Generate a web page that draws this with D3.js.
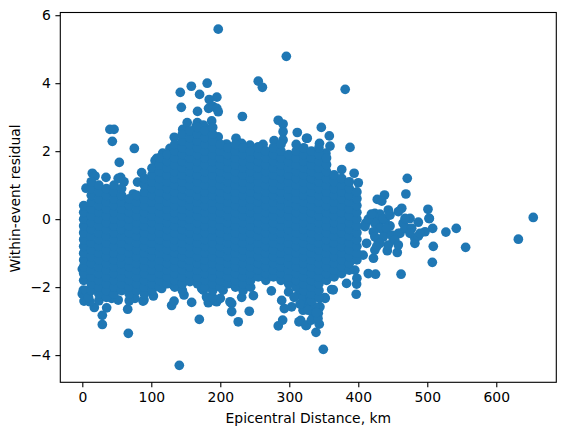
<!DOCTYPE html>
<html><head><meta charset="utf-8">
<script src="https://cdn.jsdelivr.net/npm/d3@7"></script>
<style>html,body{margin:0;background:#fff}svg{display:block}text{font-family:"DejaVu Sans",sans-serif;font-size:13.9px;fill:#000}</style>
</head><body><svg id="c" width="565" height="435"></svg>
<script>
const xTicks=[0,100,200,300,400,500,600];
const yTicks=[-4,-2,0,2,4,6];
const xLabel="Epicentral Distance, km";
const yLabel="Within-event residual";
const pointColor="#1f77b4";

// isolated and silhouette points: [distance km, residual]
const outerPoints=[
[197,5.59],[295.7,4.79],[255,4.06],[261,3.88],[181,4],[158,3.91],[142,3.73],[170,3.67],[195,3.59],[184,3.52],[143.5,3.29],[167,3.17],[183,3.26],[189.6,3.31],[195,3.26],[197,3.16],[232,3.02],[284,2.91],[291,2.8],[291,2.57],[291,2.33],[311.6,2.55],[325,2.38],[40,2.64],[46,2.64],[43.5,2.29],[75.4,2.08],[53.6,1.67],[14.5,1.35],[18.4,1.27],[34.3,1.23],[55.6,1.23],[52,1.2],[60.4,1.1],[86,1.37],[80,1.09],[5.4,.91],[74,.74],[116.5,1.94],[107.8,1.79],[105.4,1.72],[133.3,2.41],[145.5,2.64],[152,2.84],[166.7,2.84],[175.4,2.77],[187.5,2.89],[186.5,2.67],[164.8,2.72],[197,2.42],[222.8,2.38],[243,2.18],[231,2.23],[262,2.2],[255,2.13],[278,2.31],[291.6,1.86],[278,1.86],[209,2.21],[127,2.08],
[381,3.82],[346.4,2.7],[358,2.45],[326,2.38],[388,2.11],[359,2.15],[343.8,2.23],[353,1.94],[351.7,1.54],[376,1.46],[394,1.35],[400,1.07],[471,1.2],[469,.74],[438,.71],[427.5,.58],[434,.53],[501,.29],[653.6,.05],[463,.32],[443.5,.27],[424,.17],
[632,-.59],[555.6,-.83],[508.7,-.8],[507.3,-1.27],[542,-.27],[527,-.38],[507.8,-.27],[503,.02],[462,-1.62],[425,-1.62],[414.5,-1.6],[422,-1.15],[456.5,-.98],[442,-.93],[482,-.71],[482,-.57],[496.7,-.37],[487,-.09],[475,.02],[487,-.5],[472.5,-.27],[458,.22],[431.4,.15],[422,.09],[410.8,-.12],[446,-.2],[460.4,-.42],[450.7,-.61],[429,-.67],[424,-.91],[407,-1.06],[412,-.71],[431,-.22],[438.7,-.42],[426.7,-.08],[438.7,-.03],[465,-.12],[397,-2.21],[397.6,-1.91],[398,-1.74],[383,-1.89],[395,-1.5],[361.4,-2.07],[351.7,-2.31],[344.4,-2.58],[342,-2.77],[343.4,-3.09],[325,-3.12],[338.7,-3.33],[349.3,-3.83],[334.8,-2.87],[320,-2.68],[325,-2.48],[314,-3.02],
[140.6,-4.3],[66.7,-3.36],[29,-3.1],[29,-2.83],[17.4,-2.6],[2.5,-2.41],[65.8,-2.65],[35.3,-2.61],[89.4,-2.38],[103,-2.26],[129.5,-2.54],[133,-2.41],[147.4,-2.23],[158.5,-2.45],[169.6,-2.95],[182.6,-2.46],[194.8,-2.43],[216.5,-2.72],[216.5,-2.48],[226,-3.02],[242,-2.71],[231,-2.3],[248,-2.25],[274,-2.11],[289,-2.39],[292.8,-2.63],[303.4,-2.58],[284,-3.14],[290.4,-2.97],[316.5,-2.98],[324,-3.13],[175.4,-2.09],[0,-1.47],[1.5,-2.09],
[11,-2.43],[42.6,-2.33],[52,-2.38],[76.4,-2.33],[88,-2.41],[115,-2.04],[132,-1.94],[156,-1.84],[173,-2.04],[192,-2.4],[200,-2.33],[180,-2.29],[204,-2.09],[0,-2.2],[5,-2.1],[9,-2.3],[24,-2.4],
[214,-2.43],[299,-2.14],[313,-2.23],[320,-2.33],[315.5,-2.5],[330,-2.43],[337,-2.58],[327.5,-2.68],[332,-2.97],[341.6,-2.92],[344,-2.33],[352,-2.33],[363.7,-2.08],[330,-2.25],[339,-2.75],[307,-2.3],
[424,-.12],[436.3,.02],[446,.12],[431.4,-.27],[441,-.27],[421.8,-.37],[424,-.52],[436.3,-.52],[448.3,-.47],[458,-.42],[467.7,-.27],[477.4,-.27],[467.7,.02],[443.5,-.76],[431.4,-.71],[453,-.61],[426.6,-.81],[409.7,-.22],[475,-.42],[489.4,-.42],[458,-.76],[414.5,0],[502.5,.02],[419,.15]
];

// dense cloud, read as residuals per distance column
const coreDistances=[2,13,24,35,46,57,68,79,90,101,112,123,134,145,156,167,178,189,200,211,222,233,244,255,266,277,288,299,310,321,332,343,354,365,376,387,398];
const coreResiduals=[
[-1.8,-1.6,-1.4,-1.2,-1,-.8,-.6,-.4,-.2,0,.2,.4],
[-2.1,-1.9,-1.7,-1.5,-1.3,-1.1,-.9,-.7,-.5,-.3,-.1,.1,.3,.5,.7,.9,1.1],
[-2.2,-2,-1.8,-1.6,-1.4,-1.2,-1,-.8,-.6,-.4,-.2,0,.2,.4,.6,.8,1],
[-2.3,-2.1,-1.9,-1.7,-1.5,-1.3,-1.1,-.9,-.7,-.5,-.3,-.1,.1,.3,.5,.7,.9],
[-2.2,-2,-1.8,-1.6,-1.4,-1.2,-1,-.8,-.6,-.4,-.2,0,.2,.4,.6,.8,1],
[-2.1,-1.9,-1.7,-1.5,-1.3,-1.1,-.9,-.7,-.5,-.3,-.1,.1,.3,.5,.7,.9],
[-2.4,-2.2,-2,-1.8,-1.6,-1.4,-1.2,-1,-.8,-.6,-.4,-.2,0,.2,.4,.6],
[-2.1,-1.9,-1.7,-1.5,-1.3,-1.1,-.9,-.7,-.5,-.3,-.1,.1,.3,.5,.7],
[-2.2,-2,-1.8,-1.6,-1.4,-1.2,-1,-.8,-.6,-.4,-.2,0,.2,.4,.6,.8,1,1.2],
[-2.1,-1.9,-1.7,-1.5,-1.3,-1.1,-.9,-.7,-.5,-.3,-.1,.1,.3,.5,.7,.9,1.1,1.3,1.5],
[-2,-1.8,-1.6,-1.4,-1.2,-1,-.8,-.6,-.4,-.2,0,.2,.4,.6,.8,1,1.2,1.4,1.6,1.8],
[-1.9,-1.7,-1.5,-1.3,-1.1,-.9,-.7,-.5,-.3,-.1,.1,.3,.5,.7,.9,1.1,1.3,1.5,1.7,1.9],
[-2,-1.8,-1.6,-1.4,-1.2,-1,-.8,-.6,-.4,-.2,0,.2,.4,.6,.8,1,1.2,1.4,1.6,1.8,2,2.2],
[-2.1,-1.9,-1.7,-1.5,-1.3,-1.1,-.9,-.7,-.5,-.3,-.1,.1,.3,.5,.7,.9,1.1,1.3,1.5,1.7,1.9,2.1,2.3,2.5],
[-1.8,-1.6,-1.4,-1.2,-1,-.8,-.6,-.4,-.2,0,.2,.4,.6,.8,1,1.2,1.4,1.6,1.8,2,2.2,2.4,2.6],
[-1.9,-1.7,-1.5,-1.3,-1.1,-.9,-.7,-.5,-.3,-.1,.1,.3,.5,.7,.9,1.1,1.3,1.5,1.7,1.9,2.1,2.3,2.5,2.7],
[-2,-1.8,-1.6,-1.4,-1.2,-1,-.8,-.6,-.4,-.2,0,.2,.4,.6,.8,1,1.2,1.4,1.6,1.8,2,2.2,2.4,2.6],
[-2.3,-2.1,-1.9,-1.7,-1.5,-1.3,-1.1,-.9,-.7,-.5,-.3,-.1,.1,.3,.5,.7,.9,1.1,1.3,1.5,1.7,1.9,2.1,2.3,2.5,2.7],
[-2,-1.8,-1.6,-1.4,-1.2,-1,-.8,-.6,-.4,-.2,0,.2,.4,.6,.8,1,1.2,1.4,1.6,1.8,2,2.2],
[-1.9,-1.7,-1.5,-1.3,-1.1,-.9,-.7,-.5,-.3,-.1,.1,.3,.5,.7,.9,1.1,1.3,1.5,1.7,1.9,2.1],
[-2,-1.8,-1.6,-1.4,-1.2,-1,-.8,-.6,-.4,-.2,0,.2,.4,.6,.8,1,1.2,1.4,1.6,1.8,2,2.2],
[-2.1,-1.9,-1.7,-1.5,-1.3,-1.1,-.9,-.7,-.5,-.3,-.1,.1,.3,.5,.7,.9,1.1,1.3,1.5,1.7,1.9,2.1],
[-2,-1.8,-1.6,-1.4,-1.2,-1,-.8,-.6,-.4,-.2,0,.2,.4,.6,.8,1,1.2,1.4,1.6,1.8,2],
[-1.7,-1.5,-1.3,-1.1,-.9,-.7,-.5,-.3,-.1,.1,.3,.5,.7,.9,1.1,1.3,1.5,1.7,1.9,2.1],
[-1.8,-1.6,-1.4,-1.2,-1,-.8,-.6,-.4,-.2,0,.2,.4,.6,.8,1,1.2,1.4,1.6,1.8,2],
[-1.7,-1.5,-1.3,-1.1,-.9,-.7,-.5,-.3,-.1,.1,.3,.5,.7,.9,1.1,1.3,1.5,1.7,1.9,2.1],
[-1.8,-1.6,-1.4,-1.2,-1,-.8,-.6,-.4,-.2,0,.2,.4,.6,.8,1,1.2,1.4,1.6,1.8,2,2.2],
[-1.9,-1.7,-1.5,-1.3,-1.1,-.9,-.7,-.5,-.3,-.1,.1,.3,.5,.7,.9,1.1,1.3,1.5,1.7,1.9],
[-2,-1.8,-1.6,-1.4,-1.2,-1,-.8,-.6,-.4,-.2,0,.2,.4,.6,.8,1,1.2,1.4,1.6,1.8,2,2.2],
[-2.1,-1.9,-1.7,-1.5,-1.3,-1.1,-.9,-.7,-.5,-.3,-.1,.1,.3,.5,.7,.9,1.1,1.3,1.5,1.7,1.9,2.1],
[-2.4,-2.2,-2,-1.8,-1.6,-1.4,-1.2,-1,-.8,-.6,-.4,-.2,0,.2,.4,.6,.8,1,1.2,1.4,1.6,1.8,2],
[-2.3,-2.1,-1.9,-1.7,-1.5,-1.3,-1.1,-.9,-.7,-.5,-.3,-.1,.1,.3,.5,.7,.9,1.1,1.3,1.5,1.7,1.9,2.1],
[-1.8,-1.6,-1.4,-1.2,-1,-.8,-.6,-.4,-.2,0,.2,.4,.6,.8,1,1.2,1.4,1.6,1.8],
[-1.7,-1.5,-1.3,-1.1,-.9,-.7,-.5,-.3,-.1,.1,.3,.5,.7,.9,1.1,1.3],
[-1.6,-1.4,-1.2,-1,-.8,-.6,-.4,-.2,0,.2,.4,.6,.8,1,1.2],
[-1.5,-1.3,-1.1,-.9,-.7,-.5,-.3,-.1,.1,.3,.5,.7,.9,1.1],
[-1.2,-1,-.8,-.6,-.4,-.2,0,.2,.4,.6,.8]
];

const W=565,H=435,M={l:60.3,r:556.3,t:12.5,b:382.3};
const x=d3.scaleLinear().domain([-31.9,687]).range([M.l,M.r]);
const y=d3.scaleLinear().domain([-4.8,6.08]).range([M.b,M.t]);
const svg=d3.select("#c");
const points=outerPoints.concat(coreDistances.flatMap((d,i)=>coreResiduals[i].map(r=>[d,r])));
svg.append("g").selectAll("circle").data(points).join("circle")
 .attr("cx",d=>x(d[0])).attr("cy",d=>y(d[1])).attr("r",4.85).attr("fill",pointColor);
svg.append("rect").attr("x",M.l).attr("y",M.t).attr("width",M.r-M.l).attr("height",M.b-M.t)
 .attr("fill","none").attr("stroke","#000").attr("stroke-width",1.1);
const fmt=d=>String(d).replace("-","\u2212");
const ax=svg.append("g").attr("transform",`translate(0,${M.b})`)
 .call(d3.axisBottom(x).tickValues(xTicks).tickFormat(fmt).tickSize(4.9).tickPadding(5));
const ay=svg.append("g").attr("transform",`translate(${M.l},0)`)
 .call(d3.axisLeft(y).tickValues(yTicks).tickFormat(fmt).tickSize(4.9).tickPadding(4.5));
[ax,ay].forEach(g=>{g.select(".domain").remove();g.selectAll("line").attr("stroke","#000").attr("stroke-width",1.1);
 g.selectAll("text").attr("font-size",null).attr("fill","#000");g.attr("font-size",null).attr("font-family",null);});
svg.append("text").attr("x",(M.l+M.r)/2).attr("y",423).attr("text-anchor","middle").text(xLabel);
svg.append("text").attr("transform",`translate(20,${(M.t+M.b)/2+1}) rotate(-90)`).attr("text-anchor","middle").text(yLabel);
</script></body></html>
